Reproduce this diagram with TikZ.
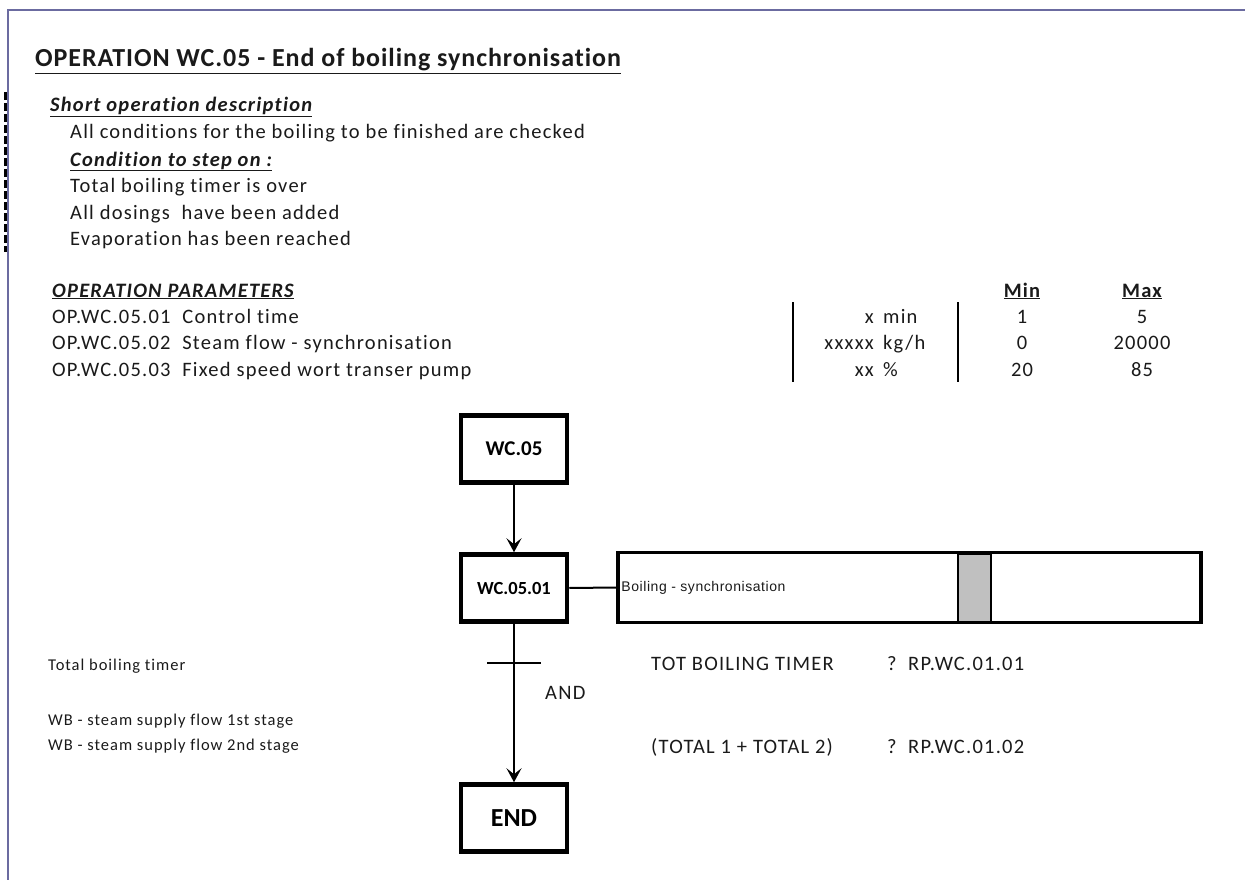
\documentclass[tikz,border=0pt]{standalone}
\usepackage{fontspec}
\setmainfont{Carlito}[Ligatures=NoCommon]
\newfontfamily\cellfont{Carlito}[Ligatures=NoCommon,LetterSpace=6]
\newfontfamily\titlefont{Carlito}[Ligatures=NoCommon,LetterSpace=3.6]
\newfontfamily\barfont{Liberation Sans}[LetterSpace=4]
\usepackage{xcolor}
\usetikzlibrary{arrows.meta,positioning}
\definecolor{frameBlue}{HTML}{6B6BA0}
\definecolor{stepGrey}{HTML}{C0C0C0}
\definecolor{ink}{HTML}{1A1A1A}

\begin{document}
\begin{tikzpicture}[x=1pt,y=-1pt,>={Stealth[length=14pt,width=15pt,inset=6pt]},
  txt/.style={anchor=base west,inner sep=0pt,text=ink,font=\cellfont\fontsize{20.5}{24}\selectfont},
  small/.style={anchor=base west,inner sep=0pt,text=ink,font=\cellfont\fontsize{16.5}{19}\selectfont},
  head/.style={txt,font=\cellfont\fontsize{20.5}{24}\selectfont\bfseries\itshape},
  colhead/.style={txt,anchor=base,font=\cellfont\fontsize{20.5}{24}\selectfont\bfseries},
  stepbox/.style={draw,line width=4.5pt,minimum width=106pt,minimum height=67pt,inner sep=0pt},
  link/.style={line width=2.2pt,->}]
\useasboundingbox (0,0) rectangle (1245,880);
% page frame
\draw[frameBlue,line width=2pt] (8,880) -- (8,10) -- (1245,10);
\draw[line width=3pt,dash pattern=on 8pt off 3pt] (5,92) -- (5,252);
% title and description
\node[txt,font=\titlefont\fontsize{26}{30}\selectfont\bfseries] (title) at (35,67) {\underline{OPERATION WC.05 - End of boiling synchronisation}};
\node[head] (shortdesc) at (50,112) {\underline{Short operation description}};
\node[txt] (desc) at (70,139) {All conditions for the boiling to be finished are checked};
\node[head] (cond) at (70,166) {\underline{Condition to step on :}};
\node[txt] (cond1) at (70,192) {Total boiling timer is over};
\node[txt] (cond2) at (70,219) {All dosings\ \ have been added};
\node[txt] (cond3) at (70,245) {Evaporation has been reached};
% parameters
\node[head] (params) at (52,297) {\underline{OPERATION PARAMETERS}};
\node[colhead] (min) at (1022,297) {\underline{Min}};
\node[colhead] (max) at (1142,297) {\underline{Max}};
\node[txt] (p1) at (52,323) {OP.WC.05.01\ \ Control time};
\node[txt] (p2) at (52,349.5) {OP.WC.05.02\ \ Steam flow - synchronisation};
\node[txt] (p3) at (52,376) {OP.WC.05.03\ \ Fixed speed wort transer pump};
\node[txt,anchor=base east] (v1) at (874,323) {x};
\node[txt,anchor=base east] (v2) at (874,349.5) {xxxxx};
\node[txt,anchor=base east] (v3) at (874,376) {xx};
\node[txt] (u1) at (883,323) {min};
\node[txt] (u2) at (883,349.5) {kg/h};
\node[txt] (u3) at (883,376) {\%};
\node[txt,anchor=base] (min1) at (1022,323) {1};
\node[txt,anchor=base] (min2) at (1022,349.5) {0};
\node[txt,anchor=base] (min3) at (1022,376) {20};
\node[txt,anchor=base] (max1) at (1142,323) {5};
\node[txt,anchor=base] (max2) at (1142,349.5) {20000};
\node[txt,anchor=base] (max3) at (1142,376) {85};
\draw[line width=2pt] (793,302) -- (793,382);
\draw[line width=2pt] (958,302) -- (958,382);
% sequence
\node[stepbox,font=\bfseries\fontsize{21}{24}\selectfont] (s0) at (514,449) {WC.05};
\node[stepbox,font=\bfseries\fontsize{18.5}{21}\selectfont] (s1) at (514,588) {WC.05.01};
\node[stepbox,font=\bfseries\fontsize{26}{29}\selectfont] (fin) at (514,818) {END};
\node[draw,line width=3.5pt,minimum width=583pt,minimum height=70pt,inner sep=0pt] (action) at (909.5,587.5) {};
\node[draw,line width=2pt,fill=stepGrey,minimum width=33pt,minimum height=68pt,inner sep=0pt] (marker) at (974.5,587.5) {};
\node[anchor=west,inner sep=0pt,font=\barfont\fontsize{14}{16}\selectfont,text=ink] (actlabel) at ([xshift=5pt]action.west) {Boiling - synchronisation};
\draw[line width=2pt] (s1.east) -- (action.west);
\draw[link] (s0) -- (s1);
\draw[link] (s1) -- (fin);
% transition
\coordinate (trans) at (514,663);
\draw[line width=2pt] ([xshift=-27pt]trans) -- ([xshift=27pt]trans);
\node[txt] (and) at (545,699) {AND};
% conditions
\node[small] (c1) at (48,670) {Total boiling timer};
\node[small] (c2) at (48,725) {WB - steam supply flow 1st stage};
\node[small] (c3) at (48,750) {WB - steam supply flow 2nd stage};
\node[txt] (t1) at (651,670) {TOT BOILING TIMER};
\node[txt] (t2) at (651,753) {(TOTAL 1 + TOTAL 2)};
\node[txt] (q1) at (887,670) {?};
\node[txt] (r1) at (908,670) {RP.WC.01.01};
\node[txt] (q2) at (887,753) {?};
\node[txt] (r2) at (908,753) {RP.WC.01.02};
\end{tikzpicture}
\end{document}
